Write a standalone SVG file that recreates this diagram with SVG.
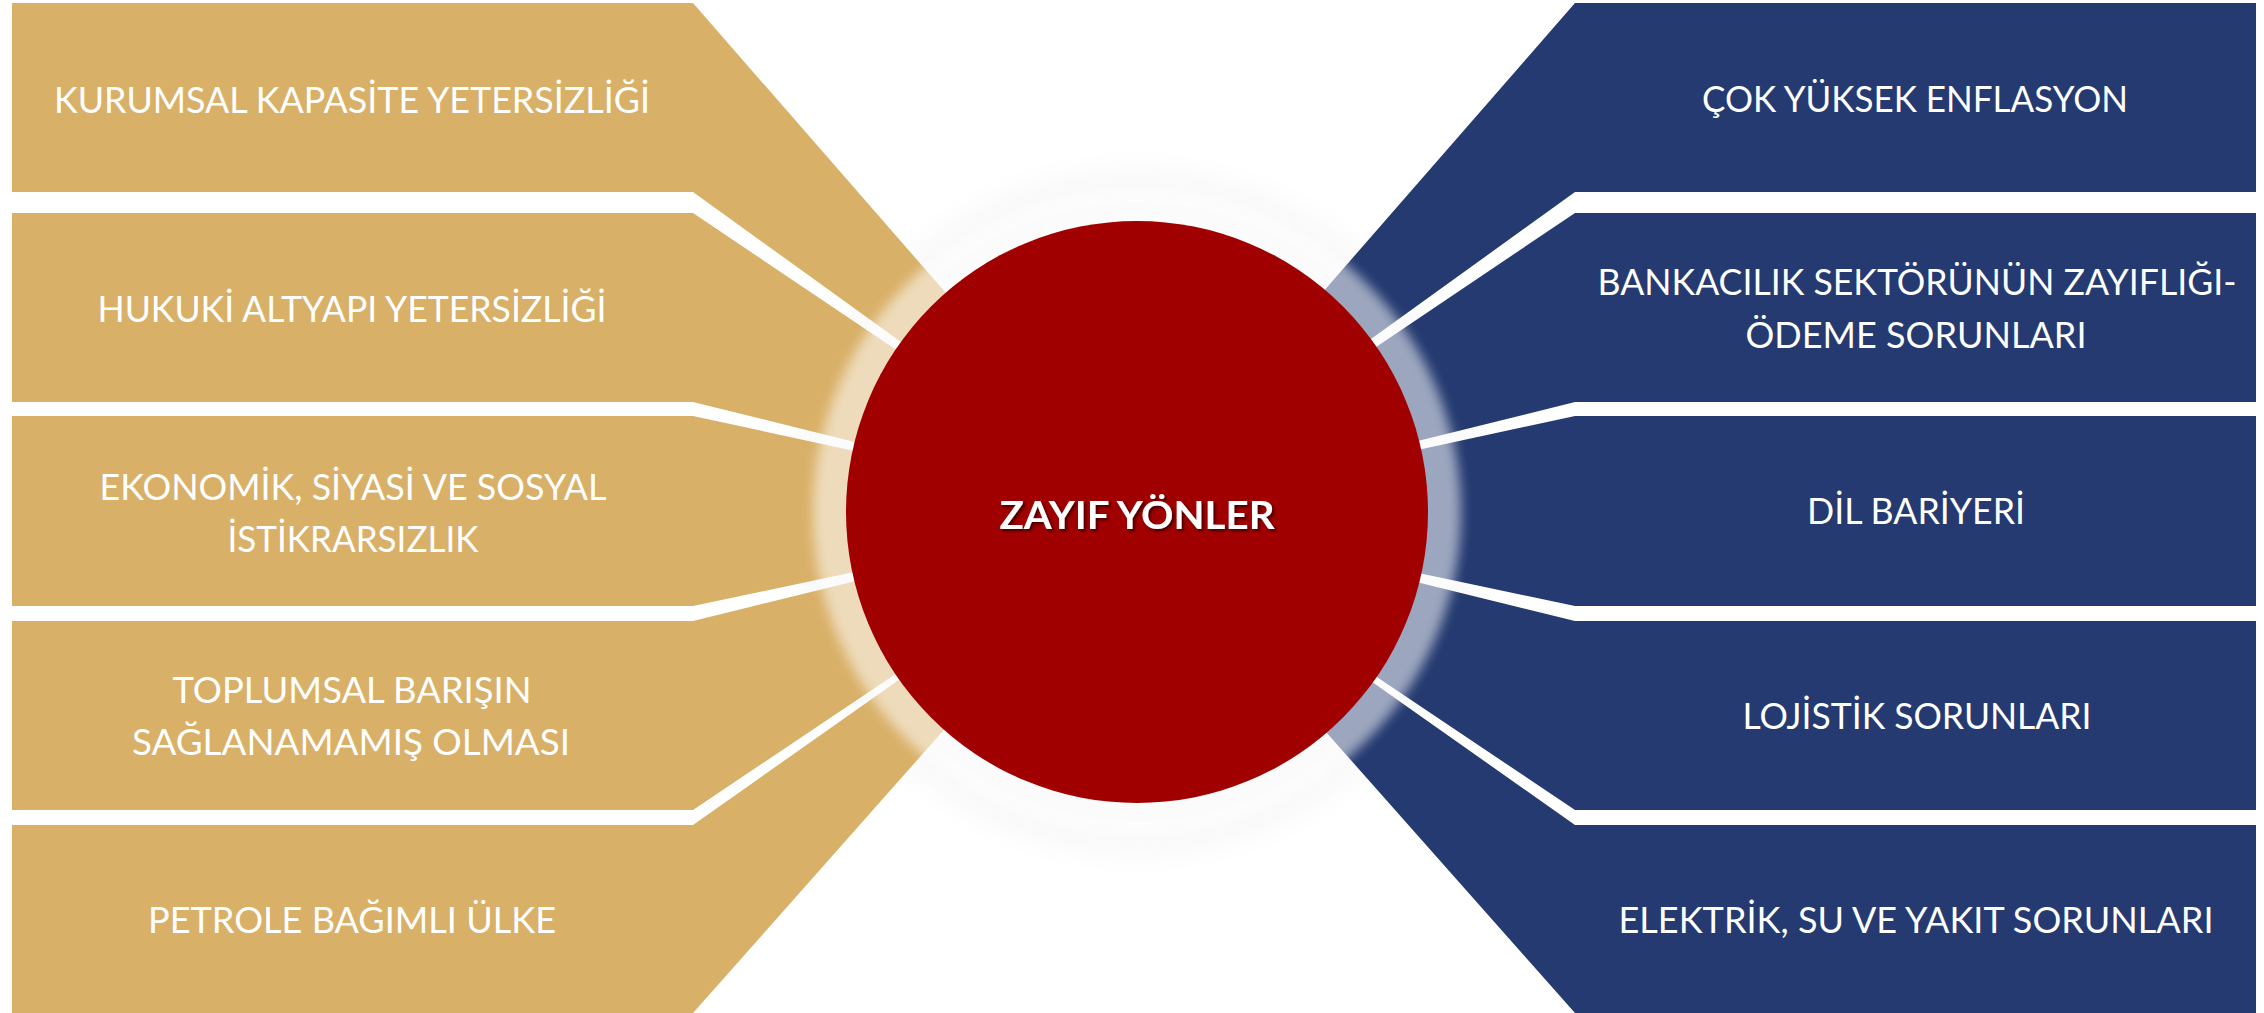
<svg xmlns="http://www.w3.org/2000/svg" width="2264" height="1013" viewBox="0 0 2264 1013">
<defs>
<style>
.gold{fill:#D9B068}
.blue{fill:#243A70}
.lbl{font-family:Lato,"Open Sans","DejaVu Sans",sans-serif;font-size:37px;fill:#FFFFFF;text-anchor:middle}
.title{font-family:Lato,"Open Sans","DejaVu Sans",sans-serif;font-size:39px;font-weight:bold;fill:#FFFFFF;text-anchor:middle}
</style>
<filter id="glow" x="-20%" y="-20%" width="140%" height="140%">
<feGaussianBlur stdDeviation="6"/>
</filter>
<filter id="soft" x="-30%" y="-30%" width="160%" height="160%">
<feGaussianBlur stdDeviation="14"/>
</filter>
<filter id="tshadow" x="-10%" y="-30%" width="120%" height="160%">
<feDropShadow dx="2" dy="2" stdDeviation="1.5" flood-color="#000000" flood-opacity="0.6"/>
</filter>
</defs>
<rect width="2264" height="1013" fill="#FFFFFF"/>
<circle cx="1137" cy="512" r="345" fill="#000000" opacity="0.025" filter="url(#soft)"/>
<g id="left-1"><polygon class="gold" points="12,3 693,3 1137,512 693,192 12,192"/><text class="lbl" x="352" y="113" textLength="596" lengthAdjust="spacingAndGlyphs">KURUMSAL KAPASİTE YETERSİZLİĞİ</text></g>
<g id="left-2"><polygon class="gold" points="12,213 693,213 1137,512 693,402 12,402"/><text class="lbl" x="352" y="322" textLength="509" lengthAdjust="spacingAndGlyphs">HUKUKİ ALTYAPI YETERSİZLİĞİ</text></g>
<g id="left-3"><polygon class="gold" points="12,416 693,416 1137,512 693,606 12,606"/><text class="lbl" x="353" y="500" textLength="507" lengthAdjust="spacingAndGlyphs">EKONOMİK, SİYASİ VE SOSYAL</text><text class="lbl" x="353" y="552" textLength="251" lengthAdjust="spacingAndGlyphs">İSTİKRARSIZLIK</text></g>
<g id="left-4"><polygon class="gold" points="12,621 693,621 1137,512 693,810 12,810"/><text class="lbl" x="352" y="703" textLength="359" lengthAdjust="spacingAndGlyphs">TOPLUMSAL BARIŞIN</text><text class="lbl" x="351" y="755" textLength="438" lengthAdjust="spacingAndGlyphs">SAĞLANAMAMIŞ OLMASI</text></g>
<g id="left-5"><polygon class="gold" points="12,825 693,825 1137,512 693,1013 12,1013"/><text class="lbl" x="352" y="933" textLength="408" lengthAdjust="spacingAndGlyphs">PETROLE BAĞIMLI ÜLKE</text></g>
<g id="right-1"><polygon class="blue" points="2256,3 1575,3 1131,512 1575,192 2256,192"/><text class="lbl" x="1915" y="112" textLength="426" lengthAdjust="spacingAndGlyphs">ÇOK YÜKSEK ENFLASYON</text></g>
<g id="right-2"><polygon class="blue" points="2256,213 1575,213 1131,512 1575,402 2256,402"/><text class="lbl" x="1917" y="295" textLength="639" lengthAdjust="spacingAndGlyphs">BANKACILIK SEKTÖRÜNÜN ZAYIFLIĞI-</text><text class="lbl" x="1916" y="348" textLength="341" lengthAdjust="spacingAndGlyphs">ÖDEME SORUNLARI</text></g>
<g id="right-3"><polygon class="blue" points="2256,416 1575,416 1131,512 1575,606 2256,606"/><text class="lbl" x="1916" y="524" textLength="218" lengthAdjust="spacingAndGlyphs">DİL BARİYERİ</text></g>
<g id="right-4"><polygon class="blue" points="2256,621 1575,621 1131,512 1575,810 2256,810"/><text class="lbl" x="1917" y="729" textLength="349" lengthAdjust="spacingAndGlyphs">LOJİSTİK SORUNLARI</text></g>
<g id="right-5"><polygon class="blue" points="2256,825 1575,825 1131,512 1575,1013 2256,1013"/><text class="lbl" x="1916" y="933" textLength="595" lengthAdjust="spacingAndGlyphs">ELEKTRİK, SU VE YAKIT SORUNLARI</text></g>
<g id="connectors"></g>
<g id="center">
<circle cx="1137" cy="512" r="324" fill="#FFFFFF" opacity="0.55" filter="url(#glow)"/>
<circle cx="1137" cy="512" r="291" fill="#A00000"/>
<text class="title" x="1137" y="529" textLength="275" lengthAdjust="spacingAndGlyphs" filter="url(#tshadow)">ZAYIF YÖNLER</text>
</g>
</svg>
